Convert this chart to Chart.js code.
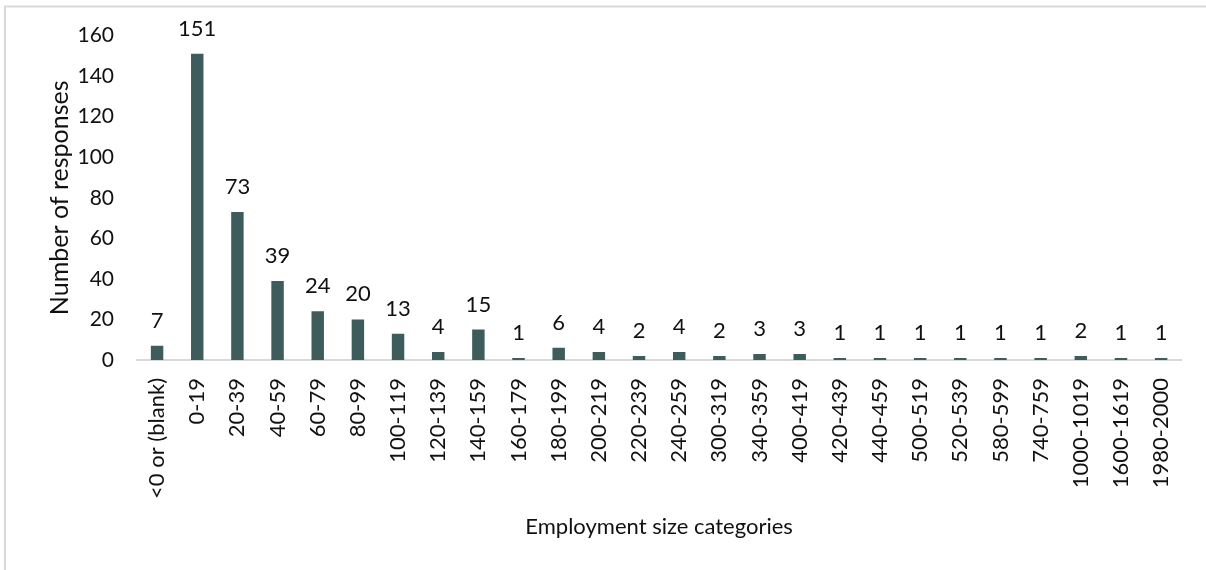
<!DOCTYPE html>
<html><head><meta charset="utf-8">
<script src="https://cdn.jsdelivr.net/npm/chart.js@4"></script>
<style>html,body{margin:0;padding:0;background:#fff;overflow:hidden}</style>
</head><body>
<canvas id="c" width="1206" height="570"></canvas>
<script>
const categories = ["<0 or (blank)","0-19","20-39","40-59","60-79","80-99","100-119","120-139","140-159","160-179","180-199","200-219","220-239","240-259","300-319","340-359","400-419","420-439","440-459","500-519","520-539","580-599","740-759","1000-1019","1600-1619","1980-2000"];
const responses = [7,151,73,39,24,20,13,4,15,1,6,4,2,4,2,3,3,1,1,1,1,1,1,2,1,1];
const yTicks = [0,20,40,60,80,100,120,140,160];
const xTitle = "Employment size categories";
const yTitle = "Number of responses";

const FONT = {family: "Lato", size: 22};
const YTICK_FONT = {family: "Lato", size: 21};
const YTITLE_FONT = {family: "Lato", size: 25};
const TXT = "#111111";

const frame = {
  id: "frame",
  beforeDraw(chart) {
    const ctx = chart.ctx;
    ctx.save();
    ctx.fillStyle = "#ffffff";
    ctx.fillRect(0, 0, chart.width, chart.height);
    ctx.strokeStyle = "#d9d9d9";
    ctx.lineWidth = 2;
    ctx.strokeRect(5, 6.5, 1300, 700);
    ctx.restore();
  }
};
const valueLabels = {
  id: "valueLabels",
  afterDatasetsDraw(chart) {
    const ctx = chart.ctx;
    const meta = chart.getDatasetMeta(0);
    ctx.save();
    ctx.font = FONT.size + "px " + FONT.family;
    ctx.fillStyle = TXT;
    ctx.textAlign = "center";
    ctx.textBaseline = "alphabetic";
    meta.data.forEach((bar, i) => {
      ctx.fillText(String(chart.data.datasets[0].data[i]), bar.x, bar.y - 18);
    });
    ctx.restore();
  }
};

new Chart(document.getElementById("c"), {
  type: "bar",
  data: {
    labels: categories,
    datasets: [{
      data: responses,
      backgroundColor: "#3f5c5c",
      barPercentage: 0.31,
      categoryPercentage: 1.0
    }]
  },
  plugins: [frame, valueLabels],
  options: {
    responsive: false,
    animation: false,
    layout: {padding: {left: 0, right: 24, top: 35, bottom: 0}},
    plugins: {legend: {display: false}, tooltip: {enabled: false}},
    scales: {
      x: {
        grid: {display: false, drawTicks: false},
        border: {display: true, color: "#d9d9d9", width: 2},
        ticks: {autoSkip: false, maxRotation: 90, minRotation: 90, padding: 18, color: TXT, font: FONT},
        title: {display: true, text: xTitle, color: TXT, font: FONT, padding: {top: 0, bottom: 30}},
        afterFit(s) { s.height = 210; }
      },
      y: {
        min: 0, max: 160,
        afterBuildTicks(s) { s.ticks = yTicks.map(v => ({value: v})); },
        grid: {display: false, drawTicks: false},
        border: {display: false},
        ticks: {padding: 23, color: TXT, font: YTICK_FONT},
        title: {display: true, text: yTitle, color: TXT, font: YTITLE_FONT, padding: {top: 45, bottom: 0}},
        afterFit(s) { s.width = 137; }
      }
    }
  }
});
</script>
</body></html>
